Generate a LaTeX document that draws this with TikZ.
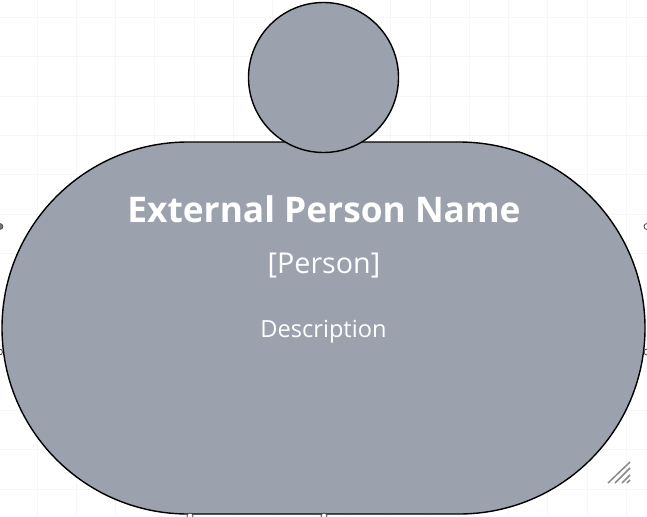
\documentclass[tikz,border=0pt]{standalone}
\usepackage{fontspec}
\setmainfont{Open Sans}
\definecolor{bodygrey}{HTML}{9BA1AD}
\definecolor{gridgrey}{HTML}{F6F6F8}
\definecolor{hatchgrey}{HTML}{8A8A8A}
\tikzset{
  personshape/.style={draw=black,line width=1.4pt,fill=bodygrey,inner sep=0pt,outer sep=0pt},
  gridline/.style={draw=gridgrey,line width=0.9pt},
  label/.style={text=white,inner sep=0pt,anchor=base},
  hatch/.style={draw=hatchgrey,line width=1.5pt},
  handledark/.style={circle,draw=black!75,fill=black!55,line width=0.5pt,minimum size=6pt,inner sep=0pt},
  handlelight/.style={circle,draw=black!75,fill=white,line width=0.8pt,minimum size=6pt,inner sep=0pt}
}
\begin{document}
\begin{tikzpicture}[x=1pt,y=-1pt]
\useasboundingbox (0,0) rectangle (647,516);
\fill[white] (0,0) rectangle (647,516);
\foreach \i in {0,...,16} {
  \draw[gridline] ({37+39.3*\i-39.3},0) -- ({37+39.3*\i-39.3},516);
  \draw[gridline] (0,{17.5+39.3*\i}) -- (647,{17.5+39.3*\i});
}
\node[handledark] (hl) at (0,226.5) {};
\node[handlelight] (hr) at (647,226.5) {};
\node[personshape,rounded corners=186pt,minimum width=643pt,minimum height=372pt] (body) at (323.5,328) {};
\node[personshape,circle,minimum size=150pt] (head) at (323.5,77.5) {};
\node[handlelight] (ml) at (-0.5,352) {};
\node[handlelight] (mr) at (647,352) {};
\node[handlelight] (b1) at (190,516) {};
\node[handlelight] (b2) at (324,516) {};
\node[label,font=\bfseries\fontsize{35.3pt}{40pt}\selectfont] (title) at (324,222) {External Person Name};
\node[label,font=\fontsize{28.7pt}{34pt}\selectfont] (type) at (324,273.5) {[Person]};
\node[label,font=\fontsize{23.6pt}{28pt}\selectfont] (desc) at (323.5,337.5) {Description};
\coordinate (h1a) at (608,483); \coordinate (h1b) at (630,462);
\coordinate (h2a) at (615,483); \coordinate (h2b) at (630,468);
\coordinate (h3a) at (622,483); \coordinate (h3b) at (630,475);
\coordinate (h4a) at (627,483); \coordinate (h4b) at (630,480);
\draw[hatch] (h1a) -- (h1b);
\draw[hatch] (h2a) -- (h2b);
\draw[hatch] (h3a) -- (h3b);
\draw[hatch] (h4a) -- (h4b);
\end{tikzpicture}
\end{document}
